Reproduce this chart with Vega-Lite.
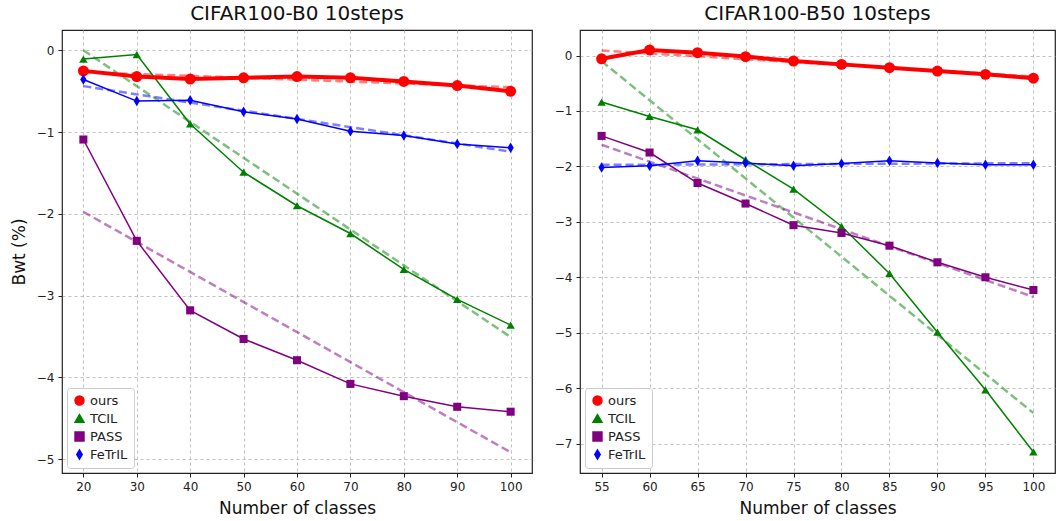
{
  "$schema": "https://vega.github.io/schema/vega-lite/v6.json",
  "padding": {"left": 9, "top": 3, "right": 2, "bottom": 3},
  "background": "white",
  "config": {
    "font": "DejaVu Sans",
    "view": {"stroke": "#222", "strokeWidth": 1.2},
    "axis": {
      "grid": true, "gridDash": [3, 3], "gridColor": "#b0b0b0", "gridOpacity": 0.8,
      "domain": false, "tickColor": "#222", "tickSize": 4, "labelPadding": 4, "titlePadding": 8,
      "labelFont": "DejaVu Sans", "labelFontSize": 12, "labelColor": "#222",
      "titleFont": "DejaVu Sans", "titleFontSize": 17, "titleFontWeight": "normal", "titleColor": "#111"
    },
    "title": {"font": "DejaVu Sans", "fontSize": 20, "fontWeight": "normal", "color": "#111", "offset": 6},
    "legend": {
      "orient": "bottom-left", "title": null, "labelFont": "DejaVu Sans", "labelFontSize": 13,
      "labelColor": "#222", "strokeColor": "#ccc", "fillColor": "white", "padding": 6,
      "cornerRadius": 3, "offset": 5, "rowPadding": 3, "symbolStrokeWidth": 1.5, "symbolSize": 80,
      "symbolOpacity": 1
    },
    "concat": {"spacing": 20}
  },
  "datasets": {
    "bwt": [
      {"panel": "B0", "method": "ours", "classes": 20, "bwt": -0.25},
      {"panel": "B0", "method": "ours", "classes": 30, "bwt": -0.32},
      {"panel": "B0", "method": "ours", "classes": 40, "bwt": -0.35},
      {"panel": "B0", "method": "ours", "classes": 50, "bwt": -0.335},
      {"panel": "B0", "method": "ours", "classes": 60, "bwt": -0.32},
      {"panel": "B0", "method": "ours", "classes": 70, "bwt": -0.335},
      {"panel": "B0", "method": "ours", "classes": 80, "bwt": -0.38},
      {"panel": "B0", "method": "ours", "classes": 90, "bwt": -0.43},
      {"panel": "B0", "method": "ours", "classes": 100, "bwt": -0.5},
      {"panel": "B0", "method": "TCIL", "classes": 20, "bwt": -0.105},
      {"panel": "B0", "method": "TCIL", "classes": 30, "bwt": -0.05},
      {"panel": "B0", "method": "TCIL", "classes": 40, "bwt": -0.9},
      {"panel": "B0", "method": "TCIL", "classes": 50, "bwt": -1.49},
      {"panel": "B0", "method": "TCIL", "classes": 60, "bwt": -1.9},
      {"panel": "B0", "method": "TCIL", "classes": 70, "bwt": -2.24},
      {"panel": "B0", "method": "TCIL", "classes": 80, "bwt": -2.68},
      {"panel": "B0", "method": "TCIL", "classes": 90, "bwt": -3.045},
      {"panel": "B0", "method": "TCIL", "classes": 100, "bwt": -3.36},
      {"panel": "B0", "method": "PASS", "classes": 20, "bwt": -1.09},
      {"panel": "B0", "method": "PASS", "classes": 30, "bwt": -2.33},
      {"panel": "B0", "method": "PASS", "classes": 40, "bwt": -3.18},
      {"panel": "B0", "method": "PASS", "classes": 50, "bwt": -3.53},
      {"panel": "B0", "method": "PASS", "classes": 60, "bwt": -3.79},
      {"panel": "B0", "method": "PASS", "classes": 70, "bwt": -4.08},
      {"panel": "B0", "method": "PASS", "classes": 80, "bwt": -4.23},
      {"panel": "B0", "method": "PASS", "classes": 90, "bwt": -4.36},
      {"panel": "B0", "method": "PASS", "classes": 100, "bwt": -4.42},
      {"panel": "B0", "method": "FeTrIL", "classes": 20, "bwt": -0.355},
      {"panel": "B0", "method": "FeTrIL", "classes": 30, "bwt": -0.62},
      {"panel": "B0", "method": "FeTrIL", "classes": 40, "bwt": -0.61},
      {"panel": "B0", "method": "FeTrIL", "classes": 50, "bwt": -0.75},
      {"panel": "B0", "method": "FeTrIL", "classes": 60, "bwt": -0.84},
      {"panel": "B0", "method": "FeTrIL", "classes": 70, "bwt": -0.99},
      {"panel": "B0", "method": "FeTrIL", "classes": 80, "bwt": -1.04},
      {"panel": "B0", "method": "FeTrIL", "classes": 90, "bwt": -1.145},
      {"panel": "B0", "method": "FeTrIL", "classes": 100, "bwt": -1.19},
      {"panel": "B50", "method": "ours", "classes": 55, "bwt": -0.06},
      {"panel": "B50", "method": "ours", "classes": 60, "bwt": 0.1},
      {"panel": "B50", "method": "ours", "classes": 65, "bwt": 0.05},
      {"panel": "B50", "method": "ours", "classes": 70, "bwt": -0.02},
      {"panel": "B50", "method": "ours", "classes": 75, "bwt": -0.1},
      {"panel": "B50", "method": "ours", "classes": 80, "bwt": -0.16},
      {"panel": "B50", "method": "ours", "classes": 85, "bwt": -0.22},
      {"panel": "B50", "method": "ours", "classes": 90, "bwt": -0.28},
      {"panel": "B50", "method": "ours", "classes": 95, "bwt": -0.34},
      {"panel": "B50", "method": "ours", "classes": 100, "bwt": -0.41},
      {"panel": "B50", "method": "TCIL", "classes": 55, "bwt": -0.84},
      {"panel": "B50", "method": "TCIL", "classes": 60, "bwt": -1.1},
      {"panel": "B50", "method": "TCIL", "classes": 65, "bwt": -1.34},
      {"panel": "B50", "method": "TCIL", "classes": 70, "bwt": -1.88},
      {"panel": "B50", "method": "TCIL", "classes": 75, "bwt": -2.41},
      {"panel": "B50", "method": "TCIL", "classes": 80, "bwt": -3.08},
      {"panel": "B50", "method": "TCIL", "classes": 85, "bwt": -3.93},
      {"panel": "B50", "method": "TCIL", "classes": 90, "bwt": -4.99},
      {"panel": "B50", "method": "TCIL", "classes": 95, "bwt": -6.03},
      {"panel": "B50", "method": "TCIL", "classes": 100, "bwt": -7.15},
      {"panel": "B50", "method": "PASS", "classes": 55, "bwt": -1.45},
      {"panel": "B50", "method": "PASS", "classes": 60, "bwt": -1.75},
      {"panel": "B50", "method": "PASS", "classes": 65, "bwt": -2.3},
      {"panel": "B50", "method": "PASS", "classes": 70, "bwt": -2.67},
      {"panel": "B50", "method": "PASS", "classes": 75, "bwt": -3.06},
      {"panel": "B50", "method": "PASS", "classes": 80, "bwt": -3.2},
      {"panel": "B50", "method": "PASS", "classes": 85, "bwt": -3.43},
      {"panel": "B50", "method": "PASS", "classes": 90, "bwt": -3.73},
      {"panel": "B50", "method": "PASS", "classes": 95, "bwt": -4.0},
      {"panel": "B50", "method": "PASS", "classes": 100, "bwt": -4.23},
      {"panel": "B50", "method": "FeTrIL", "classes": 55, "bwt": -2.02},
      {"panel": "B50", "method": "FeTrIL", "classes": 60, "bwt": -1.99},
      {"panel": "B50", "method": "FeTrIL", "classes": 65, "bwt": -1.9},
      {"panel": "B50", "method": "FeTrIL", "classes": 70, "bwt": -1.94},
      {"panel": "B50", "method": "FeTrIL", "classes": 75, "bwt": -1.99},
      {"panel": "B50", "method": "FeTrIL", "classes": 80, "bwt": -1.95},
      {"panel": "B50", "method": "FeTrIL", "classes": 85, "bwt": -1.9},
      {"panel": "B50", "method": "FeTrIL", "classes": 90, "bwt": -1.94},
      {"panel": "B50", "method": "FeTrIL", "classes": 95, "bwt": -1.97},
      {"panel": "B50", "method": "FeTrIL", "classes": 100, "bwt": -1.97}
    ]
  },
  "resolve": {"legend": {"color": "independent", "shape": "independent"}, "scale": {"x": "independent", "y": "independent", "color": "independent", "shape": "independent"}},
  "hconcat": [
    {
      "title": "CIFAR100-B0 10steps",
      "width": 470,
      "height": 443,
      "data": {"name": "bwt"},
      "transform": [{"filter": "datum.panel === 'B0'"}],
      "encoding": {
        "x": {"field": "classes", "type": "quantitative",
          "scale": {"domain": [16, 104], "nice": false, "zero": false},
          "axis": {"title": "Number of classes", "values": [20, 30, 40, 50, 60, 70, 80, 90, 100]}},
        "y": {"field": "bwt", "type": "quantitative",
          "scale": {"domain": [-5.17, 0.25], "nice": false, "zero": false},
          "axis": {"title": "Bwt (%)", "values": [-5, -4, -3, -2, -1, 0], "format": "d"}},
        "color": {"field": "method", "type": "nominal", "sort": ["ours", "TCIL", "PASS", "FeTrIL"],
          "scale": {"domain": ["ours", "TCIL", "PASS", "FeTrIL"], "range": ["#ff0000", "#008000", "#800080", "#0000ff"]}}
      },
      "layer": [
        {
          "transform": [{"regression": "bwt", "on": "classes", "groupby": ["method"]}],
          "mark": {"type": "line", "strokeDash": [8, 4], "strokeWidth": 2.5, "opacity": 0.5},
          "encoding": {}
        },
        {
          "transform": [{"filter": "datum.method !== 'ours'"}],
          "mark": {"type": "line", "strokeWidth": 1.5},
          "encoding": {}
        },
        {
          "transform": [{"filter": "datum.method === 'ours'"}],
          "mark": {"type": "line", "strokeWidth": 4},
          "encoding": {}
        },
        {
          "mark": {"type": "point", "filled": true, "opacity": 1},
          "encoding": {
            "shape": {"field": "method", "type": "nominal", "sort": ["ours", "TCIL", "PASS", "FeTrIL"],
              "scale": {"domain": ["ours", "TCIL", "PASS", "FeTrIL"], "range": ["circle", "triangle-up", "square", "M0,-1L0.6,0L0,1L-0.6,0Z"]}},
            "size": {"field": "method", "type": "nominal", "legend": null,
              "scale": {"type": "ordinal", "domain": ["ours", "TCIL", "PASS", "FeTrIL"], "range": [120, 70, 65, 110]}}
          }
        }
      ]
    },
    {
      "title": "CIFAR100-B50 10steps",
      "width": 475,
      "height": 443,
      "data": {"name": "bwt"},
      "transform": [{"filter": "datum.panel === 'B50'"}],
      "encoding": {
        "x": {"field": "classes", "type": "quantitative",
          "scale": {"domain": [52.75, 102.25], "nice": false, "zero": false},
          "axis": {"title": "Number of classes", "values": [55, 60, 65, 70, 75, 80, 85, 90, 95, 100]}},
        "y": {"field": "bwt", "type": "quantitative",
          "scale": {"domain": [-7.53, 0.46], "nice": false, "zero": false},
          "axis": {"title": null, "values": [-7, -6, -5, -4, -3, -2, -1, 0], "format": "d"}},
        "color": {"field": "method", "type": "nominal", "sort": ["ours", "TCIL", "PASS", "FeTrIL"],
          "scale": {"domain": ["ours", "TCIL", "PASS", "FeTrIL"], "range": ["#ff0000", "#008000", "#800080", "#0000ff"]}}
      },
      "layer": [
        {
          "transform": [{"regression": "bwt", "on": "classes", "groupby": ["method"]}],
          "mark": {"type": "line", "strokeDash": [8, 4], "strokeWidth": 2.5, "opacity": 0.5},
          "encoding": {}
        },
        {
          "transform": [{"filter": "datum.method !== 'ours'"}],
          "mark": {"type": "line", "strokeWidth": 1.5},
          "encoding": {}
        },
        {
          "transform": [{"filter": "datum.method === 'ours'"}],
          "mark": {"type": "line", "strokeWidth": 4},
          "encoding": {}
        },
        {
          "mark": {"type": "point", "filled": true, "opacity": 1},
          "encoding": {
            "shape": {"field": "method", "type": "nominal", "sort": ["ours", "TCIL", "PASS", "FeTrIL"],
              "scale": {"domain": ["ours", "TCIL", "PASS", "FeTrIL"], "range": ["circle", "triangle-up", "square", "M0,-1L0.6,0L0,1L-0.6,0Z"]}},
            "size": {"field": "method", "type": "nominal", "legend": null,
              "scale": {"type": "ordinal", "domain": ["ours", "TCIL", "PASS", "FeTrIL"], "range": [120, 70, 65, 110]}}
          }
        }
      ]
    }
  ]
}
